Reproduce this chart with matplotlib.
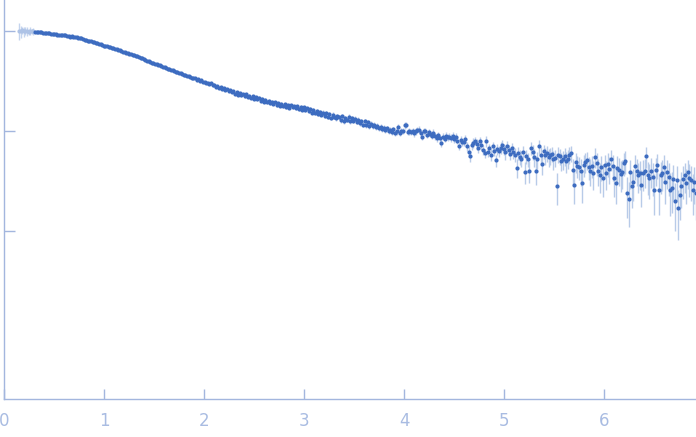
import numpy as np
import matplotlib
matplotlib.use("Agg")
import matplotlib.pyplot as plt
from matplotlib.ticker import NullLocator

# scattering vector, 10 points per row
q = [
    0.150, 0.166, 0.182, 0.198, 0.214, 0.230, 0.246, 0.262, 0.278, 0.294,
    0.310, 0.326, 0.342, 0.358, 0.374, 0.390, 0.406, 0.422, 0.438, 0.454,
    0.470, 0.486, 0.502, 0.518, 0.534, 0.550, 0.566, 0.582, 0.598, 0.614,
    0.630, 0.646, 0.662, 0.678, 0.694, 0.710, 0.726, 0.742, 0.758, 0.774,
    0.790, 0.806, 0.822, 0.838, 0.854, 0.870, 0.886, 0.902, 0.918, 0.934,
    0.950, 0.966, 0.982, 0.998, 1.014, 1.030, 1.046, 1.062, 1.078, 1.094,
    1.110, 1.126, 1.142, 1.158, 1.174, 1.190, 1.206, 1.222, 1.238, 1.254,
    1.270, 1.286, 1.302, 1.318, 1.334, 1.350, 1.366, 1.382, 1.398, 1.414,
    1.430, 1.446, 1.462, 1.478, 1.494, 1.510, 1.526, 1.542, 1.558, 1.574,
    1.590, 1.606, 1.622, 1.638, 1.654, 1.670, 1.686, 1.702, 1.718, 1.734,
    1.750, 1.766, 1.782, 1.798, 1.814, 1.830, 1.846, 1.862, 1.878, 1.894,
    1.910, 1.926, 1.942, 1.958, 1.974, 1.990, 2.006, 2.022, 2.038, 2.054,
    2.070, 2.086, 2.102, 2.118, 2.134, 2.150, 2.166, 2.182, 2.198, 2.214,
    2.230, 2.246, 2.262, 2.278, 2.294, 2.310, 2.326, 2.342, 2.358, 2.374,
    2.390, 2.406, 2.422, 2.438, 2.454, 2.470, 2.486, 2.502, 2.518, 2.534,
    2.550, 2.566, 2.582, 2.598, 2.614, 2.630, 2.646, 2.662, 2.678, 2.694,
    2.710, 2.726, 2.742, 2.758, 2.774, 2.790, 2.806, 2.822, 2.838, 2.854,
    2.870, 2.886, 2.902, 2.918, 2.934, 2.950, 2.966, 2.982, 2.998, 3.014,
    3.030, 3.046, 3.062, 3.078, 3.094, 3.110, 3.126, 3.142, 3.158, 3.174,
    3.190, 3.206, 3.222, 3.238, 3.254, 3.270, 3.286, 3.302, 3.318, 3.334,
    3.350, 3.366, 3.382, 3.398, 3.414, 3.430, 3.446, 3.462, 3.478, 3.494,
    3.510, 3.526, 3.542, 3.558, 3.574, 3.590, 3.606, 3.622, 3.638, 3.654,
    3.670, 3.686, 3.702, 3.718, 3.734, 3.750, 3.766, 3.782, 3.798, 3.814,
    3.830, 3.846, 3.862, 3.878, 3.894, 3.910, 3.926, 3.942, 3.958, 3.974,
    3.990, 4.006, 4.022, 4.038, 4.054, 4.070, 4.086, 4.102, 4.118, 4.134,
    4.150, 4.166, 4.182, 4.198, 4.214, 4.230, 4.246, 4.262, 4.278, 4.294,
    4.310, 4.326, 4.342, 4.358, 4.374, 4.390, 4.406, 4.422, 4.438, 4.454,
    4.470, 4.486, 4.502, 4.518, 4.534, 4.550, 4.566, 4.582, 4.598, 4.614,
    4.630, 4.646, 4.662, 4.678, 4.694, 4.710, 4.726, 4.742, 4.758, 4.774,
    4.790, 4.806, 4.822, 4.838, 4.854, 4.870, 4.886, 4.902, 4.918, 4.934,
    4.950, 4.966, 4.982, 4.998, 5.014, 5.030, 5.046, 5.062, 5.078, 5.094,
    5.110, 5.126, 5.142, 5.158, 5.174, 5.190, 5.206, 5.222, 5.238, 5.254,
    5.270, 5.286, 5.302, 5.318, 5.334, 5.350, 5.366, 5.382, 5.398, 5.414,
    5.430, 5.446, 5.462, 5.478, 5.494, 5.510, 5.526, 5.542, 5.558, 5.574,
    5.590, 5.606, 5.622, 5.638, 5.654, 5.670, 5.686, 5.702, 5.718, 5.734,
    5.750, 5.766, 5.782, 5.798, 5.814, 5.830, 5.846, 5.862, 5.878, 5.894,
    5.910, 5.926, 5.942, 5.958, 5.974, 5.990, 6.006, 6.022, 6.038, 6.054,
    6.070, 6.086, 6.102, 6.118, 6.134, 6.150, 6.166, 6.182, 6.198, 6.214,
    6.230, 6.246, 6.262, 6.278, 6.294, 6.310, 6.326, 6.342, 6.358, 6.374,
    6.390, 6.406, 6.422, 6.438, 6.454, 6.470, 6.486, 6.502, 6.518, 6.534,
    6.550, 6.566, 6.582, 6.598, 6.614, 6.630, 6.646, 6.662, 6.678, 6.694,
    6.710, 6.726, 6.742, 6.758, 6.774, 6.790, 6.806, 6.822, 6.838, 6.854,
    6.870, 6.886, 6.902, 6.918,
]

intensity = [
    1008, 995, 1012, 990, 1003, 998, 985, 1006, 994, 1000,
    978, 974, 972, 968, 975, 966, 958, 962, 955, 950,
    940, 928, 935, 925, 918, 922, 912, 915, 905, 902,
    893, 888, 880, 884, 872, 866, 870, 858, 852, 848,
    825, 818, 808, 802, 795, 788, 775, 770, 760, 752,
    742, 736, 722, 715, 706, 700, 695, 684, 676, 670,
    662, 655, 644, 640, 628, 622, 615, 608, 600, 594,
    588, 580, 573, 565, 556, 550, 541, 533, 524, 516,
    506, 497, 490, 484, 478, 470, 468, 458, 452, 446,
    440, 433, 428, 420, 416, 409, 404, 400, 393, 390,
    383, 378, 374, 366, 362, 356, 352, 346, 342, 338,
    338, 325, 329, 316, 320, 306, 311, 299, 305, 293,
    299, 286, 291, 278, 284, 271, 276, 266, 272, 260,
    265, 253, 258, 248, 254, 236, 244, 231, 240, 228,
    235, 222, 232, 218, 226, 213, 222, 209, 217, 207,
    215, 201, 210, 196, 206, 193, 201, 189, 197, 186,
    195, 182, 190, 179, 188, 176, 185, 173, 181, 171,
    180, 172, 176, 168, 178, 166, 175, 163, 172, 161,
    168, 157, 166, 153, 162, 151, 159, 148, 156, 146,
    153, 142, 151, 139, 148, 136, 146, 138, 134, 141,
    139, 128, 140, 126, 136, 129, 139, 125, 134, 127,
    133, 123, 130, 119, 127, 116, 125, 114, 122, 112,
    118, 113, 116, 109, 112, 107, 110, 104, 108, 102,
    106, 100, 103, 97, 104, 95, 99, 110, 96, 101,
    100, 114, 116, 98, 100, 97, 101, 95, 99, 102,
    103, 96, 88, 99, 100, 92, 97, 94, 90, 96,
    89, 86, 91, 85, 76, 88, 84, 90, 87, 88,
    86, 90, 83, 88, 80, 71, 82, 77, 78, 84,
    70, 62, 56, 72, 76, 80, 74, 68, 79, 73,
    65, 60, 79, 62, 67, 58, 70, 63, 51, 66,
    63, 68, 72, 66, 61, 70, 64, 59, 67, 62,
    58, 43, 60, 55, 53, 62, 39, 56, 52, 40,
    68, 62, 55, 40, 52, 70, 58, 47, 63, 57,
    60, 55, 57, 59, 52, 54, 28, 58, 56, 50,
    52, 56, 50, 53, 58, 60, 41, 29, 49, 45,
    44, 40, 30, 46, 49, 51, 44, 40, 45, 38,
    55, 48, 40, 36, 44, 34, 46, 38, 47, 42,
    52, 45, 34, 30, 43, 41, 37, 39, 48, 50,
    24, 21, 39, 28, 31, 45, 40, 36, 38, 29,
    38, 40, 56, 36, 34, 40, 35, 26, 41, 46,
    26, 36, 38, 44, 31, 39, 35, 26, 27, 33,
    20, 32, 17, 23, 28, 33, 36, 30, 39, 34,
    32, 26, 31, 24,
]

# relative error in percent
err_pct = [
    20, 14, 8, 12, 9, 11, 7, 9, 6, 8,
    1, 1, 1, 1, 1, 1, 1, 1, 1, 1,
    1, 1, 1, 1, 1, 1, 1, 1, 1, 1,
    1, 1, 1, 1, 1, 1, 1, 1, 1, 1,
    1, 1, 1, 1, 1, 1, 1, 1, 1, 1,
    1, 1, 1, 1, 1, 1, 1, 1, 1, 1,
    1, 1, 1, 1, 1, 1, 1, 1, 1, 1,
    1, 1, 1, 1, 1, 1, 1, 1, 1, 1,
    1, 1, 1, 1, 1, 1, 1, 1, 1, 1,
    2, 1, 2, 1, 2, 1, 2, 1, 2, 1,
    2, 2, 2, 2, 2, 2, 2, 2, 2, 2,
    2, 2, 2, 2, 2, 2, 2, 2, 2, 2,
    2, 2, 2, 2, 2, 2, 2, 2, 2, 2,
    2, 3, 2, 3, 2, 3, 2, 3, 2, 3,
    3, 3, 3, 3, 3, 3, 3, 3, 3, 3,
    3, 3, 3, 3, 3, 3, 3, 3, 3, 3,
    3, 4, 3, 4, 3, 4, 3, 4, 3, 4,
    4, 3, 4, 4, 3, 4, 4, 3, 4, 4,
    4, 4, 5, 4, 4, 5, 4, 4, 5, 4,
    5, 4, 5, 5, 4, 5, 5, 4, 5, 5,
    5, 5, 5, 6, 5, 5, 6, 5, 5, 6,
    6, 5, 6, 6, 5, 6, 6, 5, 6, 6,
    6, 7, 6, 6, 7, 6, 6, 7, 6, 6,
    7, 6, 7, 7, 6, 7, 7, 6, 7, 7,
    7, 8, 7, 7, 8, 7, 7, 8, 7, 7,
    8, 7, 8, 8, 7, 8, 8, 7, 8, 8,
    8, 9, 8, 8, 9, 8, 8, 9, 8, 8,
    9, 8, 9, 9, 8, 10, 9, 8, 9, 9,
    10, 11, 12, 10, 11, 10, 12, 11, 10, 11,
    12, 11, 13, 12, 11, 13, 12, 11, 14, 12,
    12, 14, 13, 12, 15, 13, 12, 14, 13, 15,
    16, 22, 15, 17, 18, 14, 25, 16, 17, 24,
    15, 17, 20, 28, 19, 15, 18, 22, 16, 19,
    18, 20, 19, 17, 22, 20, 35, 18, 19, 21,
    22, 20, 24, 21, 19, 18, 28, 36, 23, 25,
    26, 30, 36, 24, 22, 21, 26, 30, 25, 32,
    22, 26, 30, 34, 28, 36, 25, 32, 27, 30,
    24, 29, 35, 38, 30, 31, 34, 32, 26, 25,
    44, 48, 32, 40, 36, 28, 30, 34, 33, 40,
    34, 32, 24, 36, 38, 33, 36, 44, 32, 28,
    45, 35, 34, 30, 40, 33, 36, 46, 44, 38,
    50, 38, 52, 44, 40, 36, 34, 38, 32, 36,
    38, 44, 40, 46,
]

n_excluded = 10  # first points shown faded

point_col = "#3d6cc0"
bar_col = "#b8cbe8"
axis_col = "#a3b6de"

q = np.array(q)
intensity = np.array(intensity, dtype=float)
err = intensity * np.array(err_pct) / 100.0

fig = plt.figure(figsize=(6.96, 4.37), dpi=100)
ax = fig.add_axes([4 / 696, 38 / 437, 692 / 696, 399 / 437])

# faded points outside the used range
ax.errorbar(q[:n_excluded], intensity[:n_excluded], yerr=err[:n_excluded],
            fmt="o", ms=3.0, color="#aec3e6", mec="none",
            ecolor="#c4d4ee", elinewidth=1, capsize=0)
ax.errorbar(q[n_excluded:], intensity[n_excluded:], yerr=err[n_excluded:],
            fmt="o", ms=3.0, color=point_col, mec="none",
            ecolor=bar_col, elinewidth=1, capsize=0)

ax.set_yscale("log")
ax.set_xlim(0, 6.92)
ax.set_ylim(10 ** -0.68, 10 ** 3.31)
ax.set_yticks([10, 100, 1000])
ax.yaxis.set_minor_locator(NullLocator())
ax.set_xticks([0, 1, 2, 3, 4, 5, 6])

for s in ["top", "right"]:
    ax.spines[s].set_visible(False)
for s in ["left", "bottom"]:
    ax.spines[s].set_color(axis_col)
    ax.spines[s].set_linewidth(1)

ax.tick_params(direction="in", length=7, width=1, color=axis_col,
               labelcolor="#a9bce2", labelsize=12, pad=9)
ax.tick_params(axis="y", labelleft=False, length=8)

fig.savefig("out.png", dpi=100)
